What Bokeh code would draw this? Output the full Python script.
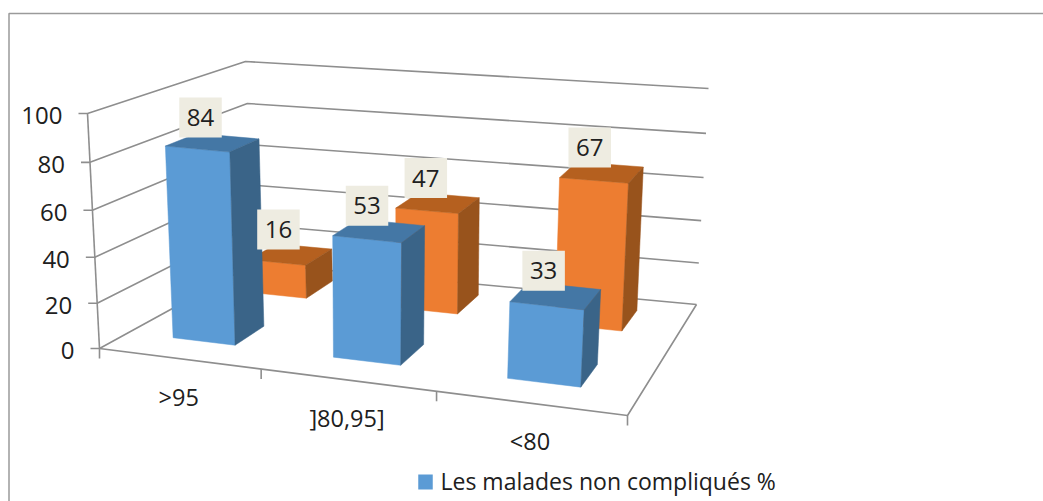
from bokeh.plotting import figure
from bokeh.embed import file_html
from bokeh.resources import INLINE
from bokeh.core.properties import value as V

categories = [">95", "]80,95]", "<80"]
series_blue = [84, 53, 33]
series_orange = [16, 47, 67]
value_ticks = [0, 20, 40, 60, 80, 100]
legend_label = "Les malades non compliqués %"

FONT = "Open Sans"
TXT = "#202020"
AXIS = "#8e8e8e"

# Projection of the chart's box (t across, z into the page, v value) on to the page
C = {(0, 0, 0): (99, 348), (0, 0, 1): (87, 113), (1, 0, 0): (627, 415), (1, 0, 1): (641, 165),
     (0, 1, 0): (254, 263), (0, 1, 1): (245, 61), (1, 1, 0): (696, 304), (1, 1, 1): (708, 88)}
PERSP = 0.133
PERSP_V = 0.05


def proj(t, z, v):
    t = t / (1 + PERSP * (1 - t))
    h = v / 100
    h = h / (1 + PERSP_V * (1 - h))
    x = y = 0
    for a, wa in ((0, 1 - t), (1, t)):
        for b, wb in ((0, 1 - z), (1, z)):
            for c, wc in ((0, 1 - h), (1, h)):
                w = wa * wb * wc
                x += w * C[(a, b, c)][0]
                y += w * C[(a, b, c)][1]
    return x, y


p = figure(width=1043, height=501, x_range=(0, 1043), y_range=(501, 0),
           output_backend="svg", toolbar_location=None, min_border=0)
p.axis.visible = False
p.grid.visible = False
p.outline_line_color = None
p.background_fill_color = "white"

# Frame
p.line([8.5, 8.5, 1043], [501, 13, 13], line_color="#9a9a9a", line_width=1.5)

# Walls and floor
gx, gy = [], []
for v in value_ticks:
    a, b, c = proj(0, 0, v), proj(0, 1, v), proj(1, 1, v)
    tick = (a[0] - 9, a[1])
    gx.append([tick[0], a[0], b[0], c[0]])
    gy.append([tick[1], a[1], b[1], c[1]])
a, b = proj(0, 0, 0), proj(0, 0, 100)
gx.append([a[0], b[0]]); gy.append([a[1], b[1]])
a, b, c = proj(0, 0, 0), proj(1, 0, 0), proj(1, 1, 0)
gx.append([a[0], b[0], c[0]]); gy.append([a[1], b[1], c[1]])
for i in range(len(categories) + 1):
    a = proj(i / len(categories), 0, 0)
    gx.append([a[0], a[0]]); gy.append([a[1], a[1] + 10])
p.multi_line(gx, gy, line_color=AXIS, line_width=1.6)

# Bars, back row first
BW = 0.066
SHIFT = -0.004
rows = [(series_orange, 0.71, 0.90, "#ED7D31", "#B5601F", "#98531C"),
        (series_blue, 0.19, 0.40, "#5B9BD5", "#4477A5", "#3A6488")]
fx, fy, fc = [], [], []
for vals, z0, z1, front, top, side in rows:
    for i, v in enumerate(vals):
        tc = (i + 0.5) / len(categories) + SHIFT
        t0, t1 = tc - BW, tc + BW
        faces = [([(t0, z0, 0), (t1, z0, 0), (t1, z0, v), (t0, z0, v)], front),
                 ([(t0, z0, v), (t1, z0, v), (t1, z1, v), (t0, z1, v)], top),
                 ([(t1, z0, 0), (t1, z1, 0), (t1, z1, v), (t1, z0, v)], side)]
        for pts, col in faces:
            q = [proj(*pt) for pt in pts]
            fx.append([a for a, _ in q]); fy.append([b for _, b in q]); fc.append(col)
p.patches(fx, fy, fill_color=fc, line_color=fc, line_width=0.5)

# Data labels
lx, ly, lt = [], [], []
for vals, z0, z1, *_ in rows:
    for i, v in enumerate(vals):
        x, y = proj((i + 0.5) / len(categories) + SHIFT, (z0 + z1) / 2, v)
        lx.append(x - 12); ly.append(y - 25); lt.append(str(v))
p.rect(lx, ly, width=42.5, height=40, fill_color="#EEECE1", line_color=None)
p.text(lx, ly, text=lt, text_font=V(FONT), text_font_size="24px", text_color=TXT,
       text_align="center", text_baseline="middle")

# Value axis labels
vx, vy = zip(*[proj(0, 0, v) for v in value_ticks])
p.text([x - 25 for x in vx], [y + 2 for y in vy], text=[str(v) for v in value_ticks],
       text_font=V(FONT), text_font_size="24px", text_color=TXT,
       text_align="right", text_baseline="middle")

# Category labels
cx, cy = zip(*[proj((i + 0.5) / len(categories), 0, 0) for i in range(len(categories))])
p.text([x for x in cx], [y + 38 for y in cy], text=categories,
       text_font=V(FONT), text_font_size="23.5px", text_color=TXT,
       text_align="center", text_baseline="middle")

# Legend (only the first entry lies inside the picture)
p.rect([425], [481.5], width=14.5, height=15, fill_color="#5B9BD5", line_color=None)
p.text([440], [480], text=[legend_label], text_font=V(FONT), text_font_size="23px",
       text_color=TXT, text_align="left", text_baseline="middle")

open("out.html", "w").write(file_html(p, INLINE))
